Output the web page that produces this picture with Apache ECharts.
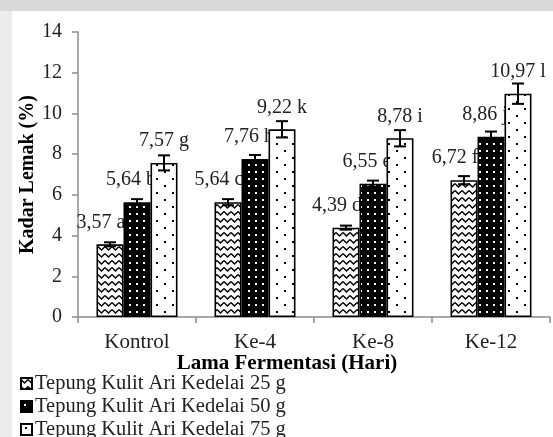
<!DOCTYPE html>
<html>
<head>
<meta charset="utf-8">
<script src="https://cdn.jsdelivr.net/npm/echarts@6/dist/echarts.min.js"></script>
<style>
  html, body { margin: 0; padding: 0; background: #fff; }
  #main { width: 553px; height: 437px; }
</style>
</head>
<body>
<div id="main"></div>
<script>
// data
var categories = ['Kontrol', 'Ke-4', 'Ke-8', 'Ke-12'];
var seriesNames = ['Tepung Kulit Ari Kedelai 25 g', 'Tepung Kulit Ari Kedelai 50 g', 'Tepung Kulit Ari Kedelai 75 g'];
var values25 = [3.57, 5.64, 4.39, 6.72];
var values50 = [5.64, 7.76, 6.55, 8.86];
var values75 = [7.57, 9.22, 8.78, 10.97];
var errors25 = [0.1, 0.15, 0.1, 0.2];
var errors50 = [0.15, 0.2, 0.15, 0.25];
var errors75 = [0.37, 0.4, 0.4, 0.5];
var labels25 = ['3,57 a', '5,64 c', '4,39 d', '6,72 f'];
var labels50 = ['5,64 b', '7,76 h', '6,55 e', '8,86 j'];
var labels75 = ['7,57 g', '9,22 k', '8,78 i', '10,97 l'];
var yTicks = [0, 2, 4, 6, 8, 10, 12, 14];

var FONT = 'Liberation Serif';
var BAR_W = 27;

// fill patterns like the excel ones
function makeTile(w, h, draw) {
  var c = document.createElement('canvas');
  c.width = w; c.height = h;
  draw(c.getContext('2d'));
  return c;
}
var zigzag = makeTile(7, 7, function (ctx) {
  ctx.fillStyle = '#fff'; ctx.fillRect(0, 0, 7, 7);
  ctx.strokeStyle = '#000'; ctx.lineWidth = 1.4;
  ctx.beginPath(); ctx.moveTo(0, 1.5); ctx.lineTo(3.5, 5); ctx.lineTo(7, 1.5); ctx.stroke();
});
var blackDots = makeTile(7, 7, function (ctx) {
  ctx.fillStyle = '#000'; ctx.fillRect(0, 0, 7, 7);
  ctx.fillStyle = '#fff'; ctx.fillRect(3, 3, 2, 2);
});
var whiteDots = makeTile(16, 14, function (ctx) {
  ctx.fillStyle = '#fff'; ctx.fillRect(0, 0, 16, 14);
  ctx.fillStyle = '#000'; ctx.fillRect(4, 3, 2, 2); ctx.fillRect(12, 10, 2, 2);
});
var patterns = [zigzag, blackDots, whiteDots];

var valueSets = [values25, values50, values75];
var errorSets = [errors25, errors50, errors75];
var labelSets = [labels25, labels50, labels75];
var labelShift = [-9, -6, 0];

var barSeries = valueSets.map(function (vals, s) {
  return {
    name: seriesNames[s],
    type: 'bar',
    z: 2 + s,
    barWidth: BAR_W,
    barGap: '0%',
    data: vals,
    itemStyle: {
      color: { image: patterns[s], repeat: 'repeat' },
      borderColor: '#000',
      borderWidth: 1.6
    },
    label: {
      show: true,
      position: 'top',
      offset: [labelShift[s], -7],
      fontFamily: FONT,
      fontSize: 20,
      color: '#222',
      formatter: function (p) { return labelSets[s][p.dataIndex]; }
    }
  };
});

// error bar data: [category, value, error, series]
var errData = [];
valueSets.forEach(function (vals, s) {
  vals.forEach(function (v, i) { errData.push([i, v, errorSets[s][i], s]); });
});

var errorSeries = {
  type: 'custom',
  z: 10,
  data: errData,
  encode: { x: 0, y: 1 },
  silent: true,
  renderItem: function (params, api) {
    var cat = api.value(0), v = api.value(1), e = api.value(2), s = api.value(3);
    var hi = api.coord([cat, v + e]);
    var lo = api.coord([cat, v - e]);
    var x = hi[0] + (s - 1) * BAR_W;
    var cap = 6;
    var style = { stroke: '#000', lineWidth: 2, fill: null };
    return {
      type: 'group',
      children: [
        { type: 'line', shape: { x1: x, y1: hi[1], x2: x, y2: lo[1] }, style: style },
        { type: 'line', shape: { x1: x - cap, y1: hi[1], x2: x + cap, y2: hi[1] }, style: style },
        { type: 'line', shape: { x1: x - cap, y1: lo[1], x2: x + cap, y2: lo[1] }, style: style }
      ]
    };
  }
};

var chart = echarts.init(document.getElementById('main'), null, { renderer: 'canvas' });
chart.setOption({
  animation: false,
  backgroundColor: '#fff',
  textStyle: { fontFamily: FONT },
  graphic: [
    { type: 'rect', left: 0, top: 0, shape: { width: 553, height: 11 }, style: { fill: '#d9d9d9' }, z: -1 },
    { type: 'rect', left: 0, top: 11, shape: { width: 12, height: 426 }, style: { fill: '#ececec' }, z: -1 }
  ],
  grid: { left: 78, right: 3, top: 32, bottom: 120 },
  legend: {
    data: seriesNames,
    orient: 'vertical',
    left: 20,
    top: 373,
    height: 100,
    padding: 0,
    icon: 'rect',
    itemWidth: 11,
    itemHeight: 11,
    itemGap: 2,
    textStyle: { fontFamily: FONT, fontSize: 20.5, color: '#222', lineHeight: 20, padding: [0, 0, 0, -2] }
  },
  xAxis: {
    type: 'category',
    data: categories,
    name: 'Lama Fermentasi (Hari)',
    nameLocation: 'middle',
    nameMoveOverlap: false,
    nameGap: 36,
    nameTextStyle: { fontFamily: FONT, fontSize: 21, fontWeight: 'bold', color: '#000', padding: [0, 54, 0, 0] },
    axisLine: { lineStyle: { color: '#8c8c8c', width: 1.5 } },
    axisTick: { show: true, length: 6, lineStyle: { color: '#8c8c8c', width: 1.5 } },
    axisLabel: { fontFamily: FONT, fontSize: 21, color: '#222', margin: 15 }
  },
  yAxis: {
    type: 'value',
    min: yTicks[0],
    max: yTicks[yTicks.length - 1],
    interval: 2,
    name: 'Kadar Lemak (%)',
    nameLocation: 'middle',
    nameMoveOverlap: false,
    nameGap: 40,
    nameTextStyle: { fontFamily: FONT, fontSize: 20, fontWeight: 'bold', color: '#000' },
    splitLine: { show: false },
    axisLine: { show: true, lineStyle: { color: '#8c8c8c', width: 1.5 } },
    axisTick: { show: true, length: 6, lineStyle: { color: '#8c8c8c', width: 1.5 } },
    axisLabel: { fontFamily: FONT, fontSize: 20, color: '#222', margin: 16 }
  },
  series: barSeries.concat([errorSeries])
});
</script>
</body>
</html>
